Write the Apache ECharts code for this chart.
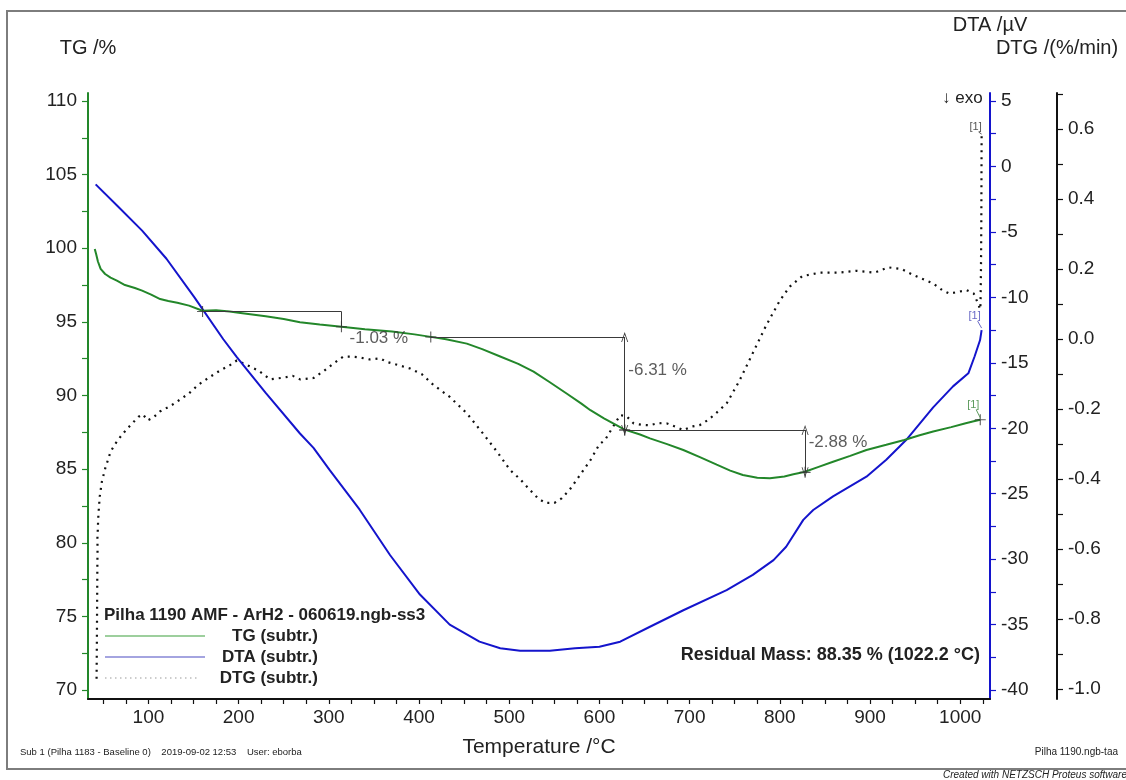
<!DOCTYPE html>
<html>
<head>
<meta charset="utf-8">
<script src="https://cdn.jsdelivr.net/npm/echarts@6/dist/echarts.min.js"></script>
<style>
  html, body { margin: 0; padding: 0; background: #fff; }
  #chart { width: 1126px; height: 780px; }
</style>
</head>
<body>
<div id="chart"></div>
<script>
// ---- Thermogravimetric mass, TG (%) vs temperature (°C) ----
const tgTemp = [40.5, 42, 44, 47, 52, 58, 65, 74, 85, 93, 103, 113, 122, 132, 145, 160, 175, 190, 200, 215,
  230, 250, 268, 290, 314, 340, 370, 395, 413, 430, 453, 470, 490, 510, 527, 545, 564, 580, 590, 605,
  628, 645, 656, 675, 693, 712, 730, 745, 759, 775, 789, 805, 815, 827, 843, 859, 878, 896, 918, 938,
  955, 970, 990, 1005, 1015, 1022.2];
const tgMass = [99.95, 99.6, 99.1, 98.6, 98.25, 98.0, 97.8, 97.5, 97.3, 97.12, 96.85, 96.55, 96.42, 96.3, 96.1, 95.75, 95.78, 95.7, 95.62, 95.5,
  95.38, 95.2, 94.98, 94.82, 94.67, 94.5, 94.35, 94.15, 93.98, 93.82, 93.52, 93.15, 92.65, 92.15, 91.62, 90.9, 90.12, 89.45, 89.0, 88.45,
  87.68, 87.35, 87.09, 86.7, 86.3, 85.8, 85.3, 84.9, 84.6, 84.42, 84.38, 84.5, 84.65, 84.8, 85.15, 85.5, 85.9, 86.3, 86.65, 86.98,
  87.3, 87.55, 87.85, 88.1, 88.25, 88.35];

// ---- Differential thermal analysis, DTA (µV) ----
const dtaTemp = [41.5, 66, 93, 120, 151, 183, 198, 230, 268, 283, 301, 334, 368, 401, 434, 467, 490, 512, 545, 573,
  600, 623, 656, 693, 741, 770, 793, 807, 826, 837, 859, 896, 918, 940, 970, 992, 1009, 1016, 1022, 1023.7];
const dtaSignal = [-1.37, -3.04, -4.9, -7.05, -10.0, -13.2, -14.56, -17.3, -20.4, -21.5, -23.2, -26.2, -29.7, -32.7, -35.0, -36.3, -36.8, -37.0, -37.0, -36.8,
  -36.69, -36.3, -35.16, -33.9, -32.36, -31.2, -30.07, -29.05, -27.0, -26.24, -25.2, -23.7, -22.4, -20.9, -18.4, -16.8, -15.8, -14.5, -13.26, -12.5];

// ---- Derivative thermogravimetry, DTG (%/min) ----
const dtgTemp = [42.5, 42.8, 43.0, 43.2, 43.4, 43.6, 43.4, 43.8, 44.2, 44.6, 46, 48.4, 52, 58, 63, 68, 75, 81.5, 89, 94,
  99, 105, 112.6, 125, 136, 145, 155, 167, 178.6, 190, 198, 210, 222, 235, 250, 260, 268, 283, 295, 305,
  316, 325, 333, 345, 357, 364, 378, 390, 403, 416, 434, 453, 471, 486, 501, 512, 523, 532, 540, 550,
  558, 567, 578, 590, 600, 606, 614, 623, 630, 638, 647, 656, 665, 675, 684, 693, 702, 711, 721, 730,
  741, 755, 770, 785, 800, 811, 825, 845, 865, 885, 905, 920, 935, 948, 960, 970, 980, 988, 998, 1007,
  1015, 1020, 1022, 1022.5, 1023, 1023.4, 1023.7];
const dtgRate = [-0.97, -0.88, -0.80, -0.72, -0.64, -0.60, -0.57, -0.55, -0.52, -0.50, -0.45, -0.407, -0.37, -0.322, -0.30, -0.282, -0.26, -0.242, -0.222, -0.215,
  -0.232, -0.225, -0.207, -0.19, -0.171, -0.155, -0.131, -0.11, -0.091, -0.075, -0.061, -0.075, -0.09, -0.115, -0.11, -0.105, -0.115, -0.111, -0.09, -0.07,
  -0.05, -0.05, -0.052, -0.058, -0.055, -0.065, -0.075, -0.084, -0.10, -0.131, -0.165, -0.212, -0.27, -0.32, -0.374, -0.40, -0.431, -0.455, -0.468, -0.468,
  -0.455, -0.43, -0.39, -0.346, -0.30, -0.289, -0.255, -0.217, -0.22, -0.241, -0.245, -0.246, -0.24, -0.241, -0.25, -0.26, -0.25, -0.246, -0.23, -0.21,
  -0.184, -0.12, -0.04, 0.04, 0.11, 0.15, 0.18, 0.19, 0.19, 0.195, 0.19, 0.205, 0.20, 0.183, 0.17, 0.159, 0.14, 0.13, 0.135, 0.14,
  0.13, 0.10, 0.085, 0.10, 0.20, 0.35, 0.58];

// ---- Tick labels ----
const tempLabels = [100, 200, 300, 400, 500, 600, 700, 800, 900, 1000];
const tgLabels = [70, 75, 80, 85, 90, 95, 100, 105, 110];
const dtaLabels = [-40, -35, -30, -25, -20, -15, -10, -5, 0, 5];
const dtgLabels = [-1.0, -0.8, -0.6, -0.4, -0.2, 0.0, 0.2, 0.4, 0.6];

// ---- Mass-loss steps (TG evaluation) ----
const stepFrom = [160, 413, 628];
const stepTo = [314, 628, 828];
const stepLevel = [95.70, 93.97, 87.66];
const stepChange = [-1.03, -6.31, -2.88];
const residualMass = 88.35;
const residualTemp = 1022.2;

// ---- Layout / styling ----
const FONT = 'Liberation Sans, Arial, sans-serif';
const TG_COLOR = '#23872a';
const DTA_COLOR = '#1414cc';
const DTG_COLOR = '#111111';
const TEXT = '#222222';

function range(a, b, step) {
  const out = [];
  for (let v = a; v <= b + 1e-9; v += step) out.push(Math.round(v * 1000) / 1000);
  return out;
}

function yAxis(opts) {
  return {
    type: 'value',
    position: opts.position,
    offset: opts.offset || 0,
    min: opts.min,
    max: opts.max,
    name: opts.name,
    nameLocation: 'end',
    nameGap: opts.nameGap,
    nameTextStyle: { color: TEXT, fontSize: 20, fontFamily: FONT },
    axisLine: { show: true, onZero: false, lineStyle: { color: opts.color, width: 2 } },
    axisTick: { show: true, inside: false, length: 6, customValues: opts.ticks, lineStyle: { color: opts.color, width: 1.2 } },
    axisLabel: { show: true, customValues: opts.labels, margin: 11, color: TEXT, fontSize: 19, fontFamily: FONT, formatter: opts.fmt },
    splitLine: { show: false }
  };
}

function zip(xs, ys) { return xs.map((x, i) => [x, ys[i]]); }

// Step annotation lines: horizontal level + vertical change
const plusPath = 'path://M4.5,0 H5.5 V4.5 H10 V5.5 H5.5 V10 H4.5 V5.5 H0 V4.5 H4.5 Z';
const chevron = 'path://M5,0 L10,10 L8.8,10 L5,2.4 L1.2,10 L0,10 Z';
const stepLines = [];
const stepPoints = [];
stepFrom.forEach((t0, i) => {
  const t1 = stepTo[i];
  const lv = stepLevel[i];
  const end = Math.round((lv + stepChange[i]) * 100) / 100;
  stepLines.push([{ coord: [t0, lv], symbol: 'none' }, { coord: [t1, lv], symbol: 'none' }]);
  const arrow = i > 0;
  stepLines.push([
    { coord: [t1, lv], symbol: arrow ? chevron : 'none', symbolSize: [7, 10] },
    { coord: [t1, end], symbol: arrow ? chevron : 'none', symbolSize: [7, 10] }
  ]);
  stepPoints.push([t0, lv]);
  stepPoints.push([t1, end]);
});
stepPoints.push([residualTemp, residualMass]);

// Label anchors for the step values (°C, TG %)
const stepLabelAnchor = [[323, 93.9], [632, 91.73], [832, 86.84]];
const stepLabelData = stepChange.map((c, i) => ({
  value: stepLabelAnchor[i],
  label: { formatter: c.toFixed(2) + ' %' }
}));

const chart = echarts.init(document.getElementById('chart'), null, { renderer: 'canvas' });

const staticGraphic = [
  { type: 'rect', z: 0, shape: { x: 7, y: 11, width: 1140, height: 758 }, style: { fill: 'none', stroke: '#7d7d7d', lineWidth: 2 } },
  { type: 'text', x: 942, y: 98, style: { text: '↓ exo', fill: TEXT, font: '17px ' + FONT, verticalAlign: 'middle' } },
  { type: 'text', x: 980, y: 655, style: { text: 'Residual Mass: ' + residualMass.toFixed(2) + ' % (' + residualTemp.toFixed(1) + ' °C)', fill: TEXT, font: 'bold 18px ' + FONT, align: 'right', verticalAlign: 'middle' } },
  // legend block
  { type: 'text', x: 104, y: 615, style: { text: 'Pilha 1190 AMF - ArH2 - 060619.ngb-ss3', fill: TEXT, font: 'bold 17px ' + FONT, verticalAlign: 'middle' } },
  { type: 'line', shape: { x1: 105, y1: 636, x2: 205, y2: 636 }, style: { stroke: '#7cbf7c', lineWidth: 1.5 } },
  { type: 'text', x: 318, y: 636, style: { text: 'TG (subtr.)', fill: TEXT, font: 'bold 17px ' + FONT, align: 'right', verticalAlign: 'middle' } },
  { type: 'line', shape: { x1: 105, y1: 657, x2: 205, y2: 657 }, style: { stroke: '#8686d6', lineWidth: 1.5 } },
  { type: 'text', x: 318, y: 657, style: { text: 'DTA (subtr.)', fill: TEXT, font: 'bold 17px ' + FONT, align: 'right', verticalAlign: 'middle' } },
  { type: 'line', shape: { x1: 105, y1: 678, x2: 200, y2: 678 }, style: { stroke: '#9a9a9a', lineWidth: 1.2, lineDash: [1.5, 3.5] } },
  { type: 'text', x: 318, y: 678, style: { text: 'DTG (subtr.)', fill: TEXT, font: 'bold 17px ' + FONT, align: 'right', verticalAlign: 'middle' } },
  // footer
  { type: 'text', x: 20, y: 752, style: { text: 'Sub 1 (Pilha 1183 - Baseline 0)    2019-09-02 12:53    User: eborba', fill: TEXT, font: '9.5px ' + FONT, verticalAlign: 'middle' } },
  { type: 'text', x: 1118, y: 752, style: { text: 'Pilha 1190.ngb-taa', fill: TEXT, font: '10px ' + FONT, align: 'right', verticalAlign: 'middle' } },
  { type: 'text', x: 943, y: 775, style: { text: 'Created with NETZSCH Proteus software', fill: TEXT, font: 'italic 10px ' + FONT, verticalAlign: 'middle' } }
];

const option = {
  animation: false,
  backgroundColor: '#ffffff',
  textStyle: { fontFamily: FONT },
  grid: { left: 88, right: 136, top: 93, bottom: 81, containLabel: false, outerBoundsMode: 'none' },
  xAxis: {
    type: 'value',
    min: 33,
    max: 1033,
    name: 'Temperature /°C',
    nameLocation: 'middle',
    nameGap: 38,
    nameTextStyle: { color: TEXT, fontSize: 21, fontFamily: FONT },
    axisLine: { show: true, onZero: false, lineStyle: { color: '#111', width: 2 } },
    axisTick: { show: true, length: 5, customValues: range(50, 1025, 25), lineStyle: { color: '#111', width: 1.2 } },
    axisLabel: { customValues: tempLabels, margin: 9, color: TEXT, fontSize: 19, fontFamily: FONT, formatter: v => String(Math.round(v)) },
    splitLine: { show: false }
  },
  yAxis: [
    yAxis({ position: 'left', min: 69.39, max: 110.54, color: TG_COLOR, name: 'TG /%', nameGap: 35,
      labels: tgLabels, ticks: range(70, 110, 2.5), fmt: v => String(Math.round(v)) }),
    yAxis({ position: 'right', min: -40.68, max: 5.61, color: DTA_COLOR, name: 'DTA /µV', nameGap: 58,
      labels: dtaLabels, ticks: range(-40, 5, 2.5), fmt: v => String(Math.round(v)) }),
    yAxis({ position: 'right', offset: 67, min: -1.028, max: 0.703, color: '#111', name: 'DTG /(%/min)', nameGap: 35,
      labels: dtgLabels, ticks: range(-1.0, 0.7, 0.1), fmt: v => (Math.abs(v) < 1e-9 ? 0 : v).toFixed(1) })
  ],
  series: [
    {
      name: 'DTG (subtr.)', type: 'line', yAxisIndex: 2, showSymbol: false, silent: true, z: 2,
      data: zip(dtgTemp, dtgRate),
      lineStyle: { color: DTG_COLOR, width: 2.2, type: [2, 5] }
    },
    {
      name: 'DTA (subtr.)', type: 'line', yAxisIndex: 1, showSymbol: false, silent: true, z: 3,
      data: zip(dtaTemp, dtaSignal),
      lineStyle: { color: DTA_COLOR, width: 2 }
    },
    {
      name: 'TG (subtr.)', type: 'line', yAxisIndex: 0, showSymbol: false, silent: true, z: 4,
      data: zip(tgTemp, tgMass),
      lineStyle: { color: TG_COLOR, width: 2 },
      markLine: {
        silent: true, animation: false, symbol: 'none', precision: 2,
        label: { show: false },
        lineStyle: { color: '#3a3a3a', width: 1, type: 'solid' },
        emphasis: { disabled: true },
        data: stepLines
      }
    },
    {
      name: 'step points', type: 'scatter', yAxisIndex: 0, silent: true, z: 5,
      symbol: plusPath, symbolSize: 11,
      itemStyle: { color: '#333' },
      data: stepPoints
    },
    {
      name: 'step values', type: 'scatter', yAxisIndex: 0, silent: true, z: 5,
      symbolSize: 0,
      label: { show: true, position: 'right', distance: 0, color: '#333', fontSize: 17, fontFamily: FONT },
      data: stepLabelData
    }
  ],
  graphic: staticGraphic
};

chart.setOption(option);

// "[1]" end-of-curve tags with short leader lines
function endTag(axisIndex, t, v, color, dx, dy) {
  const p = chart.convertToPixel({ xAxisIndex: 0, yAxisIndex: axisIndex }, [t, v]);
  return [
    { type: 'line', z: 10, shape: { x1: p[0] + dx + 3, y1: p[1] + dy + 5, x2: p[0], y2: p[1] - 2 }, style: { stroke: color, lineWidth: 1 } },
    { type: 'text', z: 10, x: p[0] + dx, y: p[1] + dy, style: { text: '[1]', fill: color, font: '11px ' + FONT, align: 'center', verticalAlign: 'middle' } }
  ];
}
const lastDtg = dtgTemp.length - 1;
const lastDta = dtaTemp.length - 1;
const lastTg = tgTemp.length - 1;
const tags = [].concat(
  endTag(2, dtgTemp[lastDtg], dtgRate[lastDtg], '#555555', -6, -9),
  endTag(1, dtaTemp[lastDta], dtaSignal[lastDta], '#6a6ac6', -7, -14),
  endTag(0, tgTemp[lastTg], tgMass[lastTg], '#5c9a5c', -7, -15)
);
chart.setOption({ graphic: staticGraphic.concat(tags) });
</script>
</body>
</html>
